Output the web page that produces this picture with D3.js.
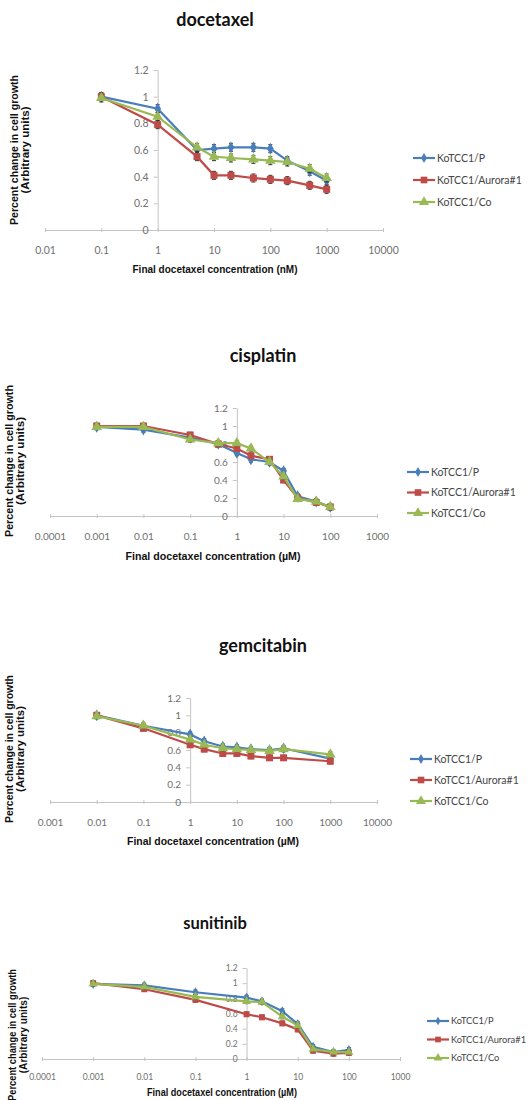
<!DOCTYPE html>
<html>
<head>
<meta charset="utf-8">
<script src="https://cdn.jsdelivr.net/npm/d3@7"></script>
<style>
body { margin: 0; background: #fff; }
</style>
</head>
<body>
<div id="chart"></div>
<script>
var svgWidth = 529;
var svgHeight = 1100;

var seriesNames = ["KoTCC1/P", "KoTCC1/Aurora#1", "KoTCC1/Co"];
var seriesColors = ["#4a7ebb", "#be4b48", "#98b954"];
var seriesShapes = [d3.symbolDiamond, d3.symbolSquare, d3.symbolTriangle];
var yTicks = [0, 0.2, 0.4, 0.6, 0.8, 1, 1.2];

// docetaxel (nM)
var docetaxelDose = [0.1, 1, 5, 10, 20, 50, 100, 200, 500, 1000];
var docetaxelP = [1.0, 0.91, 0.60, 0.61, 0.62, 0.62, 0.61, 0.52, 0.44, 0.37];
var docetaxelAurora = [1.0, 0.79, 0.55, 0.41, 0.41, 0.39, 0.38, 0.37, 0.335, 0.305];
var docetaxelCo = [0.99, 0.85, 0.62, 0.55, 0.54, 0.53, 0.52, 0.51, 0.46, 0.39];
var docetaxelTicks = [0.01, 0.1, 1, 10, 100, 1000, 10000];

// cisplatin (uM)
var cisplatinDose = [0.001, 0.01, 0.1, 0.4, 1, 2, 5, 10, 20, 50, 100];
var cisplatinP = [0.99, 0.96, 0.87, 0.80, 0.70, 0.63, 0.60, 0.50, 0.22, 0.16, 0.10];
var cisplatinAurora = [1.0, 1.0, 0.90, 0.80, 0.75, 0.67, 0.63, 0.40, 0.20, 0.15, 0.10];
var cisplatinCo = [0.99, 0.99, 0.85, 0.81, 0.81, 0.75, 0.60, 0.44, 0.19, 0.16, 0.10];
var cisplatinTicks = [0.0001, 0.001, 0.01, 0.1, 1, 10, 100, 1000];

// gemcitabin (uM)
var gemcitabinDose = [0.01, 0.1, 1, 2, 5, 10, 20, 50, 100, 1000];
var gemcitabinP = [1.0, 0.88, 0.78, 0.70, 0.64, 0.63, 0.61, 0.60, 0.62, 0.50];
var gemcitabinAurora = [1.0, 0.85, 0.66, 0.61, 0.56, 0.56, 0.53, 0.51, 0.51, 0.47];
var gemcitabinCo = [0.99, 0.88, 0.72, 0.66, 0.62, 0.61, 0.60, 0.59, 0.61, 0.55];
var gemcitabinTicks = [0.001, 0.01, 0.1, 1, 10, 100, 1000, 10000];

// sunitinib (uM)
var sunitinibDose = [0.001, 0.01, 0.1, 1, 2, 5, 10, 20, 50, 100];
var sunitinibP = [0.99, 0.97, 0.88, 0.81, 0.76, 0.63, 0.46, 0.16, 0.09, 0.12];
var sunitinibAurora = [1.0, 0.92, 0.78, 0.59, 0.55, 0.47, 0.39, 0.11, 0.07, 0.08];
var sunitinibCo = [0.99, 0.95, 0.82, 0.76, 0.75, 0.56, 0.44, 0.13, 0.09, 0.09];
var sunitinibTicks = [0.0001, 0.001, 0.01, 0.1, 1, 10, 100, 1000];

var errBar = 0.03;

var panels = [
    { title: "docetaxel", dose: docetaxelDose, values: [docetaxelP, docetaxelAurora, docetaxelCo],
      xTicks: docetaxelTicks, xLabel: "Final docetaxel concentration (nM)",
      titleX: 215, titleY: 26, titleSize: 18,
      x0: 45, x1: 383, yBottom: 230, yTop: 70, tickSize: 10.5, tickPad: 13,
      xLabelX: 215, xLabelY: 273, xLabelLen: 165,
      yLabelX: 18, yLabelY: 150, yLabelLen: 150,
      legX: 413, legY: 158, legGap: 22, legSize: 10.5, mark: 7 },
    { title: "cisplatin", dose: cisplatinDose, values: [cisplatinP, cisplatinAurora, cisplatinCo],
      xTicks: cisplatinTicks, xLabel: "Final docetaxel concentration (\u00b5M)",
      titleX: 263, titleY: 362, titleSize: 18,
      x0: 50, x1: 377, yBottom: 516, yTop: 408, tickSize: 10, tickPad: 13,
      xLabelX: 213, xLabelY: 560, xLabelLen: 175,
      yLabelX: 13, yLabelY: 461, yLabelLen: 152,
      legX: 407, legY: 472, legGap: 20.5, legSize: 10.5, mark: 7 },
    { title: "gemcitabin", dose: gemcitabinDose, values: [gemcitabinP, gemcitabinAurora, gemcitabinCo],
      xTicks: gemcitabinTicks, xLabel: "Final docetaxel concentration (\u00b5M)",
      titleX: 263, titleY: 652, titleSize: 18,
      x0: 50, x1: 377, yBottom: 802, yTop: 698, tickSize: 10, tickPad: 13,
      xLabelX: 213, xLabelY: 845, xLabelLen: 172,
      yLabelX: 13, yLabelY: 749, yLabelLen: 148,
      legX: 410, legY: 759, legGap: 21, legSize: 10.5, mark: 7 },
    { title: "sunitinib", dose: sunitinibDose, values: [sunitinibP, sunitinibAurora, sunitinibCo],
      xTicks: sunitinibTicks, xLabel: "Final docetaxel concentration (\u00b5M)",
      titleX: 215, titleY: 929, titleSize: 16.5,
      x0: 42, x1: 400, yBottom: 1059, yTop: 968, tickSize: 8.5, tickPad: 11,
      xLabelX: 222, xLabelY: 1096, xLabelLen: 150,
      yLabelX: 16, yLabelY: 1035, yLabelLen: 132,
      legX: 427, legY: 1021, legGap: 18.5, legSize: 9.3, mark: 6 }
];

var svg = d3.select("#chart")
    .append("svg")
    .attr("width", svgWidth)
    .attr("height", svgHeight);

var bodyFont = "Lato, 'Open Sans', sans-serif";
var boldFont = "'Liberation Sans Narrow', 'Liberation Sans', Arial, sans-serif";
var fmt = d3.format("~g");

function drawPanel(p) {
    var g = svg.append("g");

    var xScale = d3.scaleLog()
        .domain([p.xTicks[0], p.xTicks[p.xTicks.length - 1]])
        .range([p.x0, p.x1]);
    var yScale = d3.scaleLinear()
        .domain([0, 1.2])
        .range([p.yBottom, p.yTop]);

    // title
    g.append("text")
        .attr("x", p.titleX)
        .attr("y", p.titleY)
        .attr("text-anchor", "middle")
        .attr("font-family", bodyFont)
        .attr("font-weight", "bold")
        .attr("font-size", p.titleSize)
        .attr("fill", "#111")
        .text(p.title);

    // axes
    var xAxis = g.append("g")
        .attr("transform", `translate(0, ${p.yBottom})`)
        .call(d3.axisBottom(xScale)
            .tickValues(p.xTicks)
            .tickFormat(fmt)
            .tickSize(4)
            .tickSizeOuter(0)
            .tickPadding(p.tickPad));

    var yAxis = g.append("g")
        .attr("transform", `translate(${xScale(1)}, 0)`)
        .call(d3.axisLeft(yScale)
            .tickValues(yTicks)
            .tickFormat(fmt)
            .tickSize(4)
            .tickSizeOuter(0)
            .tickPadding(5));

    [xAxis, yAxis].forEach(function(ax) {
        ax.selectAll("path, line").attr("stroke", "#c4c4c4");
        ax.selectAll("text")
            .attr("fill", "#707070")
            .attr("font-family", bodyFont)
            .attr("font-size", p.tickSize);
    });
    xAxis.selectAll("line").attr("y1", -2).attr("y2", 2);

    // axis titles
    g.append("text")
        .attr("x", p.xLabelX)
        .attr("y", p.xLabelY)
        .attr("text-anchor", "middle")
        .attr("font-family", boldFont)
        .attr("font-weight", "bold")
        .attr("font-size", 10)
        .attr("textLength", p.xLabelLen)
        .attr("lengthAdjust", "spacingAndGlyphs")
        .attr("fill", "#111")
        .text(p.xLabel);

    var yLab = g.append("g")
        .attr("transform", `translate(${p.yLabelX}, ${p.yLabelY}) rotate(-90)`);
    yLab.append("text")
        .attr("x", 0).attr("y", 0)
        .attr("text-anchor", "middle")
        .attr("font-family", boldFont)
        .attr("font-weight", "bold")
        .attr("font-size", 10)
        .attr("textLength", p.yLabelLen)
        .attr("lengthAdjust", "spacingAndGlyphs")
        .attr("fill", "#111")
        .text("Percent change in cell growth");
    yLab.append("text")
        .attr("x", 0).attr("y", 11)
        .attr("text-anchor", "middle")
        .attr("font-family", boldFont)
        .attr("font-weight", "bold")
        .attr("font-size", 10)
        .attr("textLength", p.yLabelLen * 0.58)
        .attr("lengthAdjust", "spacingAndGlyphs")
        .attr("fill", "#111")
        .text("(Arbitrary units)");

    var line = d3.line()
        .x(d => xScale(d[0]))
        .y(d => yScale(d[1]));

    p.values.forEach(function(vals, i) {
        var pts = p.dose.map((d, j) => [d, vals[j]]);

        g.append("path")
            .datum(pts)
            .attr("fill", "none")
            .attr("stroke", seriesColors[i])
            .attr("stroke-width", 2.2)
            .attr("d", line);

        // error bars
        var eb = g.append("g").attr("stroke", "#333").attr("stroke-width", 1);
        pts.forEach(function(d) {
            var cx = xScale(d[0]);
            var t = yScale(d[1] + errBar), b = yScale(d[1] - errBar);
            eb.append("line").attr("x1", cx).attr("x2", cx).attr("y1", t).attr("y2", b);
            eb.append("line").attr("x1", cx - 2).attr("x2", cx + 2).attr("y1", t).attr("y2", t);
            eb.append("line").attr("x1", cx - 2).attr("x2", cx + 2).attr("y1", b).attr("y2", b);
        });

        var sym = d3.symbol().type(seriesShapes[i]).size(p.mark * p.mark * (i == 0 ? 0.8 : 1));
        g.selectAll(null)
            .data(pts)
            .enter()
            .append("path")
            .attr("d", sym)
            .attr("transform", d => `translate(${xScale(d[0])}, ${yScale(d[1])})`)
            .attr("fill", seriesColors[i]);
    });

    // legend
    seriesNames.forEach(function(name, i) {
        var ly = p.legY + i * p.legGap;
        g.append("line")
            .attr("x1", p.legX).attr("x2", p.legX + 22)
            .attr("y1", ly).attr("y2", ly)
            .attr("stroke", seriesColors[i])
            .attr("stroke-width", 2.2);
        g.append("path")
            .attr("d", d3.symbol().type(seriesShapes[i]).size(p.mark * p.mark * (i == 0 ? 0.6 : 0.9)))
            .attr("transform", `translate(${p.legX + 11}, ${ly})`)
            .attr("fill", seriesColors[i]);
        g.append("text")
            .attr("x", p.legX + 24)
            .attr("y", ly + p.legSize * 0.35)
            .attr("font-family", bodyFont)
            .attr("font-size", p.legSize)
            .attr("fill", "#444")
            .text(name);
    });
}

panels.forEach(drawPanel);
</script>
</body>
</html>
